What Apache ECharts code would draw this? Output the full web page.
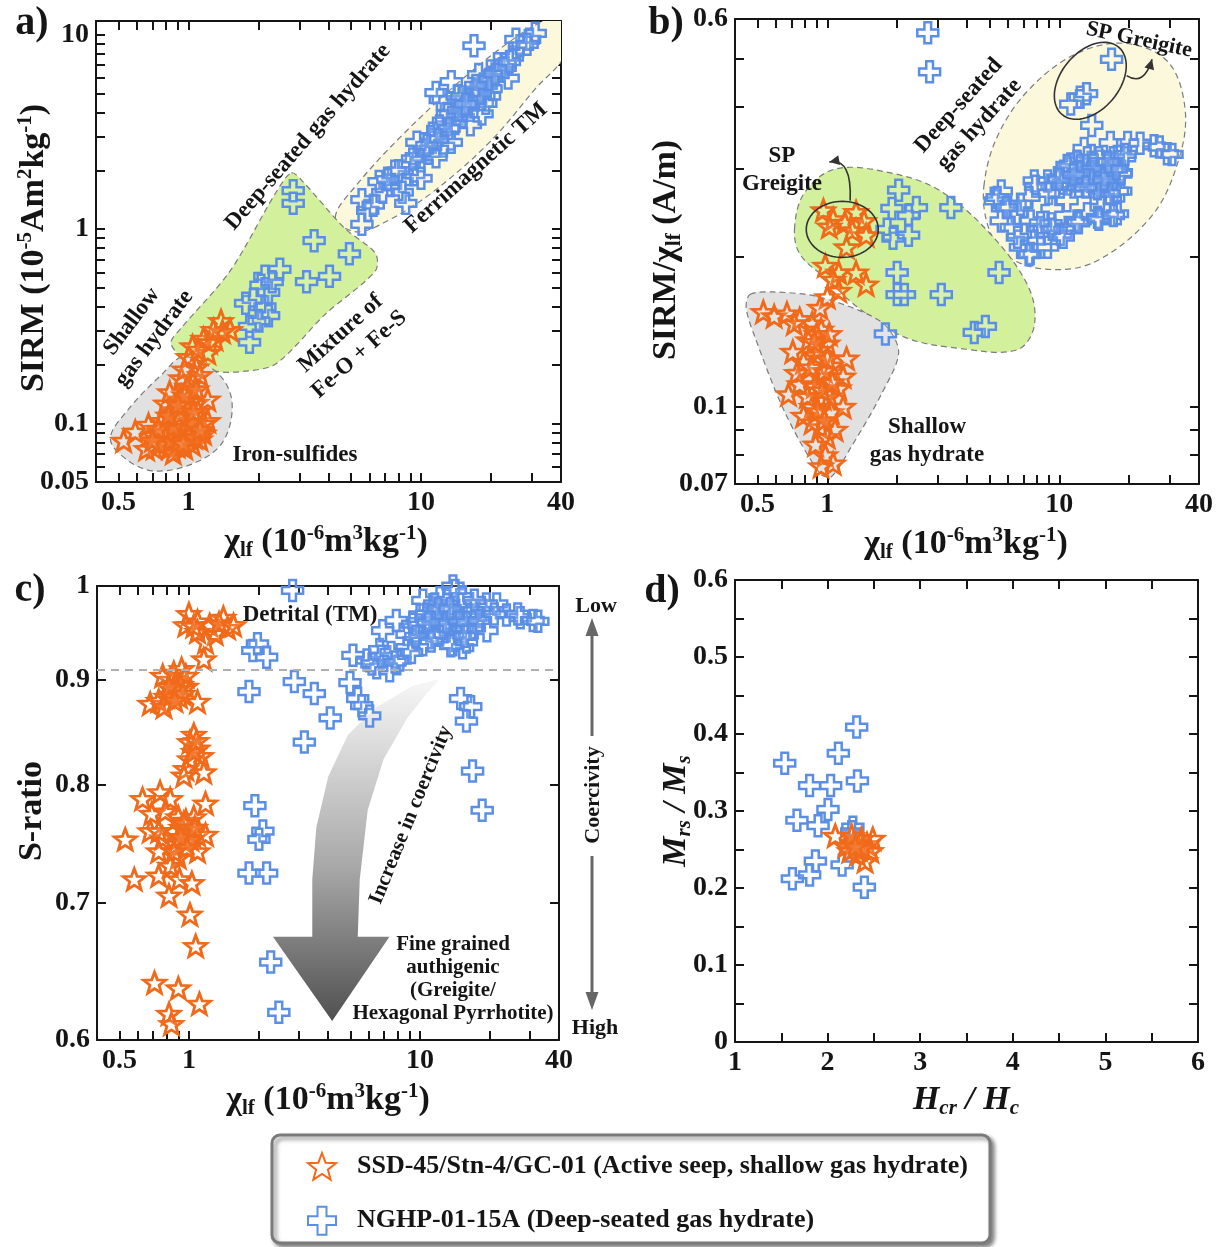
<!DOCTYPE html>
<html><head><meta charset="utf-8">
<script src="https://cdn.jsdelivr.net/npm/echarts@6/dist/echarts.min.js"></script>
<style>html,body{margin:0;padding:0;background:#fff}#c{width:1220px;height:1247px}</style>
</head><body><div id="c"></div>
<script>
// ---------------- DATA ----------------
const seriesNames = ['SSD-45/Stn-4/GC-01 (Active seep, shallow gas hydrate)', 'NGHP-01-15A (Deep-seated gas hydrate)'];

const logTicksX = [0.4,0.5,0.6,0.7,0.8,0.9,1,2,3,4,5,6,7,8,9,10,20,30,40];
const logLabelsX = [0.5,1,10,40];
const aTicksY = [0.05,0.06,0.07,0.08,0.09,0.1,0.2,0.3,0.4,0.5,0.6,0.7,0.8,0.9,1,2,3,4,5,6,7,8,9,10];
const aLabelsY = [0.05,0.1,1,10];
const bTicksY = [0.07,0.08,0.09,0.1,0.2,0.3,0.4,0.5,0.6];
const bLabelsY = [0.07,0.1,0.6];
const cTicksY = [0.6,0.7,0.8,0.9,1];
const cLabelsY = [0.6,0.7,0.8,0.9,1];
const cThreshold = 0.907;

// Panel a: chi_lf vs SIRM
const aStar = [[0.526,0.0816],[0.590,0.0909],[0.673,0.0987],[0.712,0.075],[0.768,0.0804],[0.828,0.075],[0.893,0.0767],[0.963,0.075],[1.04,0.078],[1.12,0.083],[1.06,0.095],[0.828,0.095],[0.768,0.103],[0.86,0.117],[0.93,0.133],[1.0,0.145],[1.08,0.128],[1.21,0.133],[0.93,0.103],[1.0,0.112],[1.08,0.103],[0.893,0.087],[0.712,0.087],[1.04,0.171],[1.08,0.195],[1.0,0.22],[1.04,0.25],[1.21,0.231],[1.30,0.273],[1.38,0.337],[1.51,0.303],[1.40,0.297],[1.16,0.273],[1.23,0.262],[1.28,0.303],[0.93,0.171],[1.12,0.178],[0.80,0.127],[0.83,0.145],[1.21,0.103],[1.16,0.089],[0.66,0.074],[0.86,0.0707],[0.95,0.09],[0.9,0.1],[1.0,0.085],[0.8,0.085],[0.75,0.078],[1.1,0.115],[0.97,0.123],[0.88,0.108],[1.15,0.1],[0.99,0.155],[0.78,0.09],[0.84,0.082],[0.91,0.081],[0.98,0.095],[1.03,0.102],[0.86,0.096],[0.92,0.112],[1.02,0.13],[0.96,0.14],[1.06,0.085],[1.12,0.093],[0.74,0.094],[0.82,0.11],[0.9,0.125],[1.05,0.115],[0.95,0.079],[0.7,0.082],[1.08,0.15],[0.96,0.19],[1.1,0.24]];
const aPlus = [[2.82,1.58],[2.82,1.36],[3.47,0.873],[4.92,0.747],[2.47,0.622],[2.13,0.572],[3.22,0.537],[4.04,0.572],[1.90,0.435],[2.13,0.399],[1.83,0.316],[1.83,0.262],[2.21,0.473],[2.05,0.515],[2.29,0.537],[2.21,0.359],[2.01,0.337],[1.76,0.416],[5.57,1.06],[5.90,1.25],[5.57,1.42],[6.23,1.33],[6.85,1.55],[7.4,1.68],[8.3,1.76],[6.6,1.76],[9.3,1.91],[8.9,2.17],[10.0,2.26],[10.4,2.57],[11.2,2.80],[9.6,2.80],[12.1,3.17],[12.5,3.6],[14.6,3.92],[13.5,4.27],[15.7,4.65],[16.9,5.05],[19.0,5.5],[20.5,6.0],[22.1,6.5],[24.7,7.7],[26.6,8.8],[29.3,9.5],[31.0,10.2],[16.9,8.8],[12.1,4.65],[11.6,5.05],[13.5,5.75],[15.2,3.77],[16.3,3.45],[18.3,3.92],[19.7,4.84],[23.7,6.0],[21.3,7.1],[19.0,4.45],[12.5,2.68],[10.8,2.46],[8.3,1.55],[7.7,1.99],[15.2,4.27],[14.3,4.84],[17.7,6.25],[16.9,4.27],[13.5,2.80],[11.6,2.36],[10.0,1.83],[25.6,9.5],[28.6,8.95],[22.9,7.1],[8.6,1.36],[14.0,3.5],[17.5,5.2],[18.5,5.6],[20.0,5.3],[15.0,4.8],[13.0,3.9],[12.0,3.4],[11.0,3.0],[21.5,6.6],[17.0,4.7],[16.0,4.4],[18.0,5.0],[14.5,4.1],[13.2,3.3],[11.8,2.9],[10.6,2.7],[19.5,5.9],[20.8,6.3],[15.5,4.4],[17.2,5.5],[9.2,2.3],[8.0,2.0],[7.2,1.8],[23.0,6.8],[24.0,7.3]];

// Panel b: chi_lf vs SIRM/chi_lf
const bStar = [[0.962,0.248],[1.06,0.238],[1.19,0.234],[1.33,0.246],[1.44,0.236],[1.47,0.221],[1.21,0.209],[1.02,0.230],[1.28,0.226],[0.98,0.192],[1.12,0.186],[1.33,0.186],[1.47,0.176],[1.06,0.180],[1.0,0.166],[1.12,0.171],[0.93,0.158],[0.53,0.155],[0.59,0.152],[0.67,0.154],[0.76,0.150],[0.72,0.147],[0.86,0.147],[0.94,0.143],[0.83,0.136],[1.0,0.134],[0.89,0.127],[0.79,0.123],[1.04,0.121],[0.93,0.115],[0.76,0.111],[1.12,0.109],[0.96,0.104],[0.68,0.106],[0.86,0.1],[1.04,0.0976],[0.79,0.096],[0.93,0.091],[1.0,0.087],[0.89,0.084],[0.98,0.080],[1.06,0.077],[0.94,0.076],[1.17,0.115],[1.21,0.125],[0.74,0.117],[0.71,0.129],[1.17,0.10],[0.86,0.093],[1.08,0.090],[0.9,0.14],[0.97,0.118],[0.88,0.11],[1.02,0.105],[0.92,0.13],[1.0,0.125],[0.95,0.108],[0.85,0.12],[1.05,0.112],[0.91,0.098],[0.97,0.094],[0.88,0.135],[1.02,0.14],[0.82,0.105]];
const bPlus = [[2.71,0.563],[2.76,0.470],[16.8,0.498],[11.2,0.405],[12.3,0.418],[13.1,0.425],[13.8,0.367],[12.8,0.330],[16.6,0.339],[19.7,0.339],[22.3,0.338],[25.6,0.334],[29.2,0.322],[27.0,0.332],[30.6,0.321],[5.62,0.271],[5.30,0.259],[6.0,0.251],[6.6,0.244],[5.62,0.236],[6.2,0.229],[7.1,0.222],[7.8,0.215],[8.3,0.229],[7.5,0.236],[9.2,0.233],[10.1,0.222],[10.9,0.229],[11.9,0.236],[13.2,0.244],[14.6,0.240],[16.1,0.244],[17.8,0.244],[18.4,0.271],[7.5,0.203],[6.8,0.209],[8.9,0.209],[7.8,0.284],[10.9,0.302],[11.9,0.311],[11.2,0.307],[12.3,0.302],[13.2,0.293],[15.0,0.284],[16.6,0.280],[14.2,0.276],[16.1,0.268],[17.8,0.271],[15.0,0.311],[17.3,0.307],[19.1,0.316],[13.2,0.316],[11.9,0.284],[10.9,0.280],[9.8,0.288],[8.9,0.284],[18.4,0.293],[10.4,0.281],[9.3,0.277],[9.0,0.268],[10.0,0.286],[12.1,0.277],[14.1,0.281],[15.9,0.277],[17.1,0.286],[18.5,0.295],[16.4,0.268],[14.1,0.268],[13.1,0.305],[14.8,0.316],[17.1,0.316],[19.2,0.321],[10.8,0.305],[7.9,0.277],[7.4,0.263],[6.8,0.255],[5.4,0.263],[5.9,0.251],[8.3,0.234],[9.3,0.227],[10.4,0.219],[12.1,0.234],[14.8,0.238],[17.1,0.242],[8.3,0.209],[7.4,0.202],[6.6,0.219],[9.3,0.250],[10.8,0.259],[13.6,0.295],[15.3,0.300],[12.8,0.290],[14.0,0.300],[15.8,0.292],[16.8,0.300],[13.6,0.285],[12.2,0.295],[14.6,0.274],[15.6,0.286],[17.6,0.300],[11.5,0.292],[13.0,0.276],[16.2,0.310],[1.90,0.250],[2.03,0.272],[2.42,0.251],[3.41,0.251],[2.24,0.242],[1.81,0.227],[1.92,0.218],[2.24,0.221],[2.00,0.186],[5.5,0.186],[2.00,0.168],[2.15,0.168],[3.1,0.168],[4.3,0.141],[4.8,0.145],[1.78,0.140]];

// Panel c: chi_lf vs S-ratio
const cStar = [[1.0,0.969],[0.97,0.957],[1.09,0.961],[1.23,0.957],[1.41,0.965],[1.47,0.954],[1.30,0.948],[1.18,0.939],[1.16,0.921],[1.09,0.950],[1.35,0.959],[1.56,0.957],[1.05,0.956],[0.93,0.911],[0.83,0.900],[0.77,0.904],[0.68,0.876],[0.74,0.879],[0.86,0.889],[0.97,0.893],[1.09,0.878],[0.91,0.883],[0.80,0.883],[0.86,0.907],[0.97,0.904],[0.78,0.873],[0.88,0.896],[0.84,0.885],[0.92,0.895],[0.89,0.89],[0.82,0.893],[0.94,0.886],[0.87,0.879],[1.05,0.846],[1.01,0.839],[1.09,0.833],[1.13,0.826],[1.01,0.823],[0.97,0.814],[1.16,0.811],[0.95,0.808],[1.05,0.830],[1.08,0.84],[0.63,0.787],[0.75,0.793],[0.83,0.787],[1.18,0.783],[0.69,0.774],[0.79,0.776],[0.90,0.771],[0.97,0.768],[1.05,0.771],[1.09,0.756],[0.86,0.759],[0.77,0.753],[0.68,0.759],[0.97,0.750],[0.53,0.752],[0.74,0.742],[0.90,0.737],[1.09,0.742],[0.83,0.730],[0.58,0.719],[0.74,0.722],[0.91,0.719],[1.03,0.716],[0.82,0.706],[1.01,0.691],[1.07,0.667],[0.71,0.640],[0.90,0.636],[1.11,0.625],[0.82,0.618],[0.84,0.611],[1.18,0.756],[0.74,0.759],[0.93,0.762],[1.0,0.76],[0.88,0.748],[0.95,0.766],[1.02,0.752],[0.92,0.754],[0.98,0.745],[0.86,0.742],[1.06,0.762]];
const cPlus = [[2.81,0.995],[1.89,0.930],[1.98,0.937],[2.17,0.923],[1.82,0.888],[2.86,0.898],[3.49,0.886],[4.98,0.897],[5.38,0.881],[5.6,0.874],[6.06,0.864],[4.09,0.862],[3.16,0.839],[1.93,0.781],[2.09,0.759],[2.01,0.752],[1.82,0.724],[2.17,0.724],[2.26,0.655],[2.45,0.619],[15.0,0.881],[16.6,0.873],[15.9,0.859],[16.9,0.812],[18.6,0.777],[5.13,0.925],[5.9,0.920],[6.7,0.931],[7.4,0.909],[6.5,0.912],[6.9,0.951],[7.9,0.962],[8.8,0.947],[10.0,0.968],[10.3,0.984],[12.2,0.987],[13.9,1.0],[14.9,0.980],[12.2,0.962],[14.4,0.954],[13.9,0.936],[15.3,0.933],[16.9,0.954],[18.7,0.973],[21.5,0.980],[23.7,0.968],[27.2,0.965],[30.9,0.962],[11.0,0.954],[9.3,0.958],[10.3,0.936],[8.8,0.933],[8.2,0.920],[19.5,0.951],[12.2,0.947],[16.5,0.968],[14.4,0.965],[6.2,0.916],[6.8,0.924],[7.5,0.928],[9.2,0.928],[7.8,0.918],[11.6,0.980],[15.3,0.988],[17.2,0.973],[19.4,0.980],[26.5,0.969],[32.4,0.961],[12.6,0.957],[11.6,0.946],[15.3,0.954],[17.2,0.954],[13.6,0.935],[15.9,0.939],[10.7,0.969],[9.9,0.957],[12.6,0.973],[21.0,0.969],[11.6,0.965],[17.2,0.984],[13.1,0.984],[14.2,0.995],[13.0,0.96],[14.8,0.962],[12.0,0.975],[10.9,0.96],[16.0,0.96],[18.0,0.962],[13.5,0.975],[9.6,0.945],[11.2,0.94],[15.6,0.945]];

// Panel d: Hcr/Hc vs Mrs/Ms
const dStar = [[2.083,0.268],[2.198,0.255],[2.28,0.259],[2.343,0.250],[2.426,0.257],[2.488,0.264],[2.405,0.235],[2.322,0.244],[2.24,0.248],[2.467,0.248],[2.364,0.264],[2.26,0.268],[2.38,0.252],[2.30,0.254]];
const dPlus = [[1.537,0.362],[2.314,0.409],[2.116,0.375],[1.806,0.333],[2.033,0.333],[2.322,0.339],[2.004,0.302],[1.669,0.288],[1.897,0.281],[2.273,0.279],[1.868,0.235],[2.157,0.230],[1.620,0.212],[1.806,0.217],[2.397,0.201],[2.26,0.273]];

// Interpretive regions (outlines in data coordinates)
const aRegionTM = [[4.28,1.15],[5.26,1.68],[8.28,3.04],[14.6,5.74],[23.8,9.15],[33.5,11.8],[42,12.8],[42,8.06],[31.0,5.28],[19.7,2.80],[11.2,1.55],[7.12,1.10],[5.26,0.97]];
const aRegionMix = [[2.77,1.95],[3.10,1.76],[4.70,1.01],[6.36,0.753],[6.36,0.610],[3.89,0.367],[2.38,0.203],[1.76,0.186],[1.30,0.186],[0.93,0.221],[0.84,0.261],[0.93,0.310],[1.51,0.610],[2.38,1.55]];
const aRegionFeS = [[0.461,0.0834],[0.547,0.0647],[0.712,0.057],[1.04,0.062],[1.40,0.080],[1.54,0.127],[1.35,0.179],[0.96,0.221],[0.768,0.179],[0.547,0.117]];
const bRegionTM = [[4.73,0.277],[5.41,0.349],[7.36,0.432],[11.7,0.510],[19.2,0.536],[29.3,0.493],[34.8,0.398],[32.9,0.316],[25.1,0.242],[14.1,0.195],[8.58,0.189],[5.84,0.202],[4.92,0.231]];
const bRegionDeep = [[0.722,0.227],[0.794,0.268],[1.08,0.300],[1.85,0.295],[3.04,0.272],[5.01,0.223],[7.36,0.174],[7.79,0.145],[6.55,0.130],[3.69,0.131],[2.15,0.138],[1.36,0.158],[1.0,0.180],[0.764,0.202]];
const bRegionShallow = [[0.464,0.168],[0.585,0.170],[0.926,0.166],[1.71,0.148],[2.03,0.129],[1.71,0.106],[1.26,0.0827],[1.04,0.0724],[0.926,0.0736],[0.656,0.0975],[0.482,0.140],[0.447,0.158]];
const bSPCenters = [[1.16,0.227],[13.6,0.451]];
const bSPArrows = [[[1.254,0.259],[1.28,0.316],[1.02,0.310]], [[19.5,0.462],[23.2,0.439],[25.1,0.498]]];
const cArrow = [[11.6,0.900],[9.17,0.893],[6.43,0.872],[4.88,0.846],[4.01,0.807],[3.56,0.762],[3.42,0.719],[3.42,0.674],[2.31,0.674],[4.17,0.613],[7.38,0.674],[5.38,0.674],[5.49,0.719],[5.94,0.777],[6.96,0.823],[8.81,0.862],[10.7,0.886],[12.1,0.900]];

// ---------------- STYLE ----------------
const FONT = '"Liberation Serif", "Times New Roman", serif';
const ORANGE = '#f06a1a';
const BLUE = '#5b8fe6';
const INK = '#151515';
const STAR = 'path://M50,0 L62.35,33 L97.55,34.55 L69.95,56.5 L79.4,90.45 L50,71 L20.6,90.45 L30.05,56.5 L2.45,34.55 L37.65,33 Z';
const PLUS = 'path://M34,0 L66,0 L66,34 L100,34 L100,66 L66,66 L66,100 L34,100 L34,66 L0,66 L0,34 L34,34 Z';

const grids = [
  {left: 96, top: 21, width: 465, height: 461},
  {left: 735, top: 19, width: 464, height: 465},
  {left: 97, top: 586, width: 462, height: 454},
  {left: 735, top: 580, width: 463, height: 462}
];

function fmt(v) { return String(+(+v).toPrecision(4)); }

function mkAxis(grid, pos, type, min, max, ticks, labels, show, extra) {
  const o = {
    type: type, gridIndex: grid, position: pos, min: min, max: max,
    axisLine: {show: true, onZero: false, lineStyle: {color: INK, width: 2}},
    axisTick: {show: true, inside: true, length: 9, lineStyle: {color: INK, width: 2}},
    axisLabel: {show: show, color: INK, fontFamily: FONT, fontWeight: 'bold', fontSize: 28, margin: 7, formatter: fmt},
    splitLine: {show: false}, minorTick: {show: false}
  };
  if (type === 'log') o.logBase = 10;
  if (ticks) o.axisTick.customValues = ticks;
  if (labels) o.axisLabel.customValues = labels;
  if (extra) Object.assign(o, extra);
  return o;
}

const xAxes = [], yAxes = [];
[0,1,2].forEach(function(p){
  xAxes.push(mkAxis(p, 'bottom', 'log', 0.4, 40, logTicksX, logLabelsX, true));
  xAxes.push(mkAxis(p, 'top', 'log', 0.4, 40, logTicksX, null, false));
});
yAxes.push(mkAxis(0, 'left', 'log', 0.05, 11.8, aTicksY, aLabelsY, true));
yAxes.push(mkAxis(0, 'right', 'log', 0.05, 11.8, aTicksY, null, false));
yAxes.push(mkAxis(1, 'left', 'log', 0.07, 0.6, bTicksY, bLabelsY, true));
yAxes.push(mkAxis(1, 'right', 'log', 0.07, 0.6, bTicksY, null, false));
yAxes.push(mkAxis(2, 'left', 'log', 0.6, 1, cTicksY, cLabelsY, true));
yAxes.push(mkAxis(2, 'right', 'log', 0.6, 1, cTicksY, null, false));
// panel d linear
const dFmtX = function(v){ return Math.abs(v - Math.round(v)) < 1e-6 ? String(Math.round(v)) : ''; };
const dFmtY = function(v){ const k = Math.round(v*100); return k % 10 === 0 ? (k === 0 ? '0' : String(k/100)) : ''; };
xAxes.push(mkAxis(3, 'bottom', 'value', 1, 6, null, null, true, {interval: 0.5}));
xAxes.push(mkAxis(3, 'top', 'value', 1, 6, null, null, false, {interval: 0.5}));
yAxes.push(mkAxis(3, 'left', 'value', 0, 0.6, null, null, true, {interval: 0.05}));
yAxes.push(mkAxis(3, 'right', 'value', 0, 0.6, null, null, false, {interval: 0.05}));
xAxes[6].axisLabel.formatter = dFmtX;
yAxes[6].axisLabel.formatter = dFmtY;

function polySeries(p, pts, style, z, smooth) {
  return {type: 'custom', xAxisIndex: 2*p, yAxisIndex: 2*p, clip: true, silent: true, z: z, data: [pts[0]],
    renderItem: function(params, api) {
      return {type: 'polygon', shape: {points: pts.map(function(q){ return api.coord(q); }), smooth: smooth}, style: style};
    }};
}
function ellipseSeries(p, center, rx, ry, rot) {
  return {type: 'custom', xAxisIndex: 2*p, yAxisIndex: 2*p, clip: true, silent: true, z: 5, data: [center],
    renderItem: function(params, api) {
      const c = api.coord(center); const pts = [];
      for (let i = 0; i < 72; i++) {
        const t = i / 72 * 2 * Math.PI, ex = rx*Math.cos(t), ey = ry*Math.sin(t);
        pts.push([c[0] + ex*Math.cos(rot) - ey*Math.sin(rot), c[1] - (ex*Math.sin(rot) + ey*Math.cos(rot))]);
      }
      return {type: 'polygon', shape: {points: pts}, style: {fill: 'none', stroke: '#333', lineWidth: 1.6}};
    }};
}
function curveArrowSeries(p, trio) {
  return {type: 'custom', xAxisIndex: 2*p, yAxisIndex: 2*p, clip: false, silent: true, z: 5, data: [trio[0]],
    renderItem: function(params, api) {
      const P0 = api.coord(trio[0]), P1 = api.coord(trio[1]), P2 = api.coord(trio[2]);
      const a = Math.atan2(P2[1]-P1[1], P2[0]-P1[0]), L = 10, W = 5;
      const head = [P2, [P2[0]-L*Math.cos(a)+W*Math.sin(a), P2[1]-L*Math.sin(a)-W*Math.cos(a)], [P2[0]-L*Math.cos(a)-W*Math.sin(a), P2[1]-L*Math.sin(a)+W*Math.cos(a)]];
      return {type: 'group', children: [
        {type: 'bezierCurve', shape: {x1: P0[0], y1: P0[1], cpx1: P1[0], cpy1: P1[1], x2: P2[0], y2: P2[1]}, style: {fill: 'none', stroke: '#333', lineWidth: 1.6}},
        {type: 'polygon', shape: {points: head}, style: {fill: '#333'}}
      ]};
    }};
}
function scatter(p, name, data, isStar) {
  return {type: 'scatter', name: name, xAxisIndex: 2*p, yAxisIndex: 2*p, data: data, silent: true, z: isStar ? 4 : 3,
    symbol: isStar ? STAR : PLUS, symbolSize: isStar ? [22, 21] : 21,
    itemStyle: {color: 'rgba(255,255,255,0.1)', borderColor: isStar ? ORANGE : BLUE, borderWidth: isStar ? 2.8 : 2.5, opacity: 1}};
}

const dash = {stroke: '#7c7c7c', lineWidth: 1.2, lineDash: [6, 4]};
const series = [
  polySeries(0, aRegionTM, Object.assign({fill: '#fcf8dc'}, dash), 1, 0.35),
  polySeries(0, aRegionMix, Object.assign({fill: '#d3f09c'}, dash), 1, 0.3),
  polySeries(0, aRegionFeS, Object.assign({fill: '#e1e1e1'}, dash), 1, 0.35),
  polySeries(1, bRegionTM, Object.assign({fill: '#fcf8dc'}, dash), 1, 0.35),
  polySeries(1, bRegionDeep, Object.assign({fill: '#d3f09c'}, dash), 1, 0.35),
  polySeries(1, bRegionShallow, Object.assign({fill: '#e1e1e1'}, dash), 1, 0.3),
  polySeries(2, cArrow, {fill: {type: 'linear', x: 0, y: 0, x2: 0, y2: 1, colorStops: [{offset: 0, color: '#f7f7f7'}, {offset: 0.55, color: '#a8a8a8'}, {offset: 1, color: '#505050'}]}}, 1, 0),
  ellipseSeries(1, bSPCenters[0], 36, 28, 0),
  ellipseSeries(1, bSPCenters[1], 44, 29, 50*Math.PI/180),
  curveArrowSeries(1, bSPArrows[0]),
  curveArrowSeries(1, bSPArrows[1]),
  scatter(0, seriesNames[1], aPlus, false), scatter(0, seriesNames[0], aStar, true),
  scatter(1, seriesNames[1], bPlus, false), scatter(1, seriesNames[0], bStar, true),
  Object.assign(scatter(2, seriesNames[1], cPlus, false), {markLine: {silent: true, symbol: 'none', label: {show: false}, lineStyle: {type: [8, 6], color: '#b0b0b0', width: 2}, data: [{yAxis: cThreshold}]}}),
  scatter(2, seriesNames[0], cStar, true),
  scatter(3, seriesNames[1], dPlus, false), scatter(3, seriesNames[0], dStar, true)
];

// ---------------- TEXT ----------------
const R = {
  b: {fontFamily: FONT, fontWeight: 'bold', fontSize: 34, lineHeight: 38, fill: INK},
  p: {fontFamily: FONT, fontWeight: 'bold', fontSize: 21, lineHeight: 21, verticalAlign: 'top', fill: INK},
  s: {fontFamily: FONT, fontWeight: 'bold', fontSize: 21, lineHeight: 21, verticalAlign: 'bottom', fill: INK},
  i: {fontFamily: FONT, fontWeight: 'bold', fontStyle: 'italic', fontSize: 34, lineHeight: 38, fill: INK},
  is: {fontFamily: FONT, fontWeight: 'bold', fontStyle: 'italic', fontSize: 21, lineHeight: 21, verticalAlign: 'bottom', fill: INK}
};
function rt(x, y, text, rot) {
  return {type: 'text', x: x, y: y, rotation: rot || 0, z: 20, silent: true,
    style: {text: text, rich: R, align: 'center', verticalAlign: 'middle', font: 'bold 34px ' + FONT, fill: INK}};
}
function tx(x, y, text, size, rotDeg, lh) {
  return {type: 'text', x: x, y: y, rotation: (rotDeg || 0) * Math.PI / 180, z: 20, silent: true,
    style: {text: text, align: 'center', verticalAlign: 'middle', font: 'bold ' + size + 'px ' + FONT, fill: INK, lineHeight: lh || size + 4}};
}
const chiTitle = '{b|χ}{s|lf}{b| (10}{p|-6}{b|m}{p|3}{b|kg}{p|-1}{b|)}';
const graphics = [
  // legend frame
  {type: 'rect', shape: {x: 272, y: 1135, width: 718, height: 108, r: 8}, z: 0, silent: true,
   style: {fill: '#fff', stroke: '#7a7a7a', lineWidth: 3, shadowBlur: 4, shadowOffsetX: 3, shadowOffsetY: 3, shadowColor: 'rgba(0,0,0,0.45)'}},
  // panel letters
  tx(32, 24, 'a)', 40), tx(666, 24, 'b)', 40), tx(30, 591, 'c)', 40), tx(662, 592, 'd)', 40),
  // axis titles
  rt(34, 248, '{b|SIRM (10}{p|-5}{b|Am}{p|2}{b|kg}{p|-1}{b|)}', Math.PI/2),
  rt(326, 542, chiTitle),
  rt(666, 250, '{b|SIRM/χ}{s|lf}{b| (A/m)}', Math.PI/2),
  rt(966, 544, chiTitle),
  rt(32, 811, '{b|S-ratio}', Math.PI/2),
  rt(328, 1100, chiTitle),
  rt(676, 811, '{i|M}{is|rs}{i| / M}{is|s}', Math.PI/2),
  rt(966, 1100, '{i|H}{is|cr}{i| / H}{is|c}'),
  // panel a annotations
  tx(308, 137, 'Deep-seated gas hydrate', 23, 49),
  tx(476, 168, 'Ferrimagnetic TM', 23, 42),
  tx(143, 330, 'Shallow\ngas hydrate', 23, 53, 28),
  tx(350, 344, 'Mixture of\nFe-O + Fe-S', 23, 42, 28),
  tx(295, 455, 'Iron-sulfides', 23),
  // panel b annotations
  tx(1139, 40, 'SP Greigite', 22, -12),
  tx(782, 170, 'SP\nGreigite', 23, 0, 28),
  tx(969, 115, 'Deep-seated\ngas hydrate', 23, 48, 28),
  tx(927, 441, 'Shallow\ngas hydrate', 23, 0, 28),
  // panel c annotations
  tx(310, 615, 'Detrital (TM)', 23),
  tx(411, 815, 'Increase in coercivity', 21, 68),
  tx(453, 979, 'Fine grained\nauthigenic\n(Greigite/\nHexagonal Pyrrhotite)', 21, 0, 23),
  tx(596, 606, 'Low', 22), tx(595, 1028, 'High', 22),
  tx(593, 795, 'Coercivity', 22, 90),
  {type: 'line', shape: {x1: 592, y1: 630, x2: 592, y2: 736}, style: {stroke: '#666', lineWidth: 3}, silent: true},
  {type: 'line', shape: {x1: 592, y1: 856, x2: 592, y2: 998}, style: {stroke: '#666', lineWidth: 3}, silent: true},
  {type: 'polygon', shape: {points: [[592, 618], [585.5, 636], [598.5, 636]]}, style: {fill: '#666'}, silent: true},
  {type: 'polygon', shape: {points: [[592, 1010], [585.5, 992], [598.5, 992]]}, style: {fill: '#666'}, silent: true}
];

const chart = echarts.init(document.getElementById('c'), null, {renderer: 'canvas'});
chart.setOption({
  backgroundColor: '#fff',
  animation: false,
  grid: grids.map(function(g){ return Object.assign({containLabel: false, outerBoundsMode: 'none'}, g); }),
  xAxis: xAxes, yAxis: yAxes,
  legend: {data: seriesNames, orient: 'vertical', left: 302, top: 1147, itemGap: 25, itemWidth: 28, itemHeight: 28, selectedMode: false, z: 10,
    textStyle: {fontFamily: FONT, fontWeight: 'bold', fontSize: 26, color: INK, padding: [0, 0, 0, 16]}},
  series: series,
  graphic: {elements: graphics}
});
</script></body></html>
